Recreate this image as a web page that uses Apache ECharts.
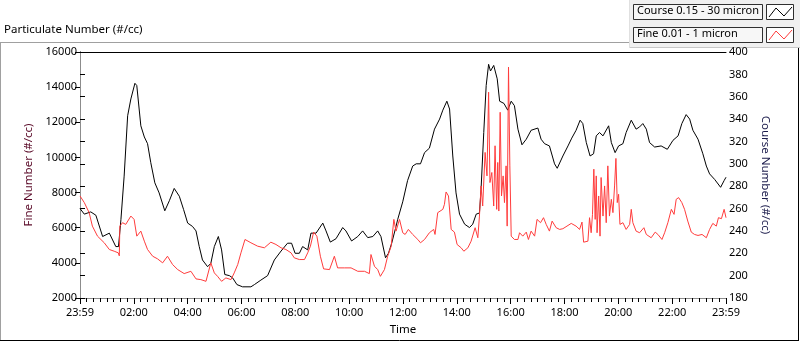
<!DOCTYPE html>
<html>
<head>
	<meta charset="UTF-8">
	<title>Particulate Number</title>
	<script src="https://cdn.jsdelivr.net/npm/echarts/dist/echarts.min.js"></script>
	<style>
		html, body { margin: 0; padding: 0; background: #fff; }
		#chart { width: 800px; height: 342px; }
	</style>
</head>
<body>
	<div id="chart"></div>
	<script type="text/javascript">
		// hours after the 23:59 start (0 .. 24)
		var courseHours = [0, 0.16, 0.40, 0.59, 0.84, 1.09, 1.33, 1.43, 1.52, 1.64, 1.77, 1.89, 2.04, 2.11, 2.26, 2.39, 2.51, 2.63, 2.78, 2.94,
			3.15, 3.32, 3.50, 3.69, 3.85, 4.00, 4.18, 4.31, 4.43, 4.55, 4.74, 4.86, 4.99, 5.14, 5.26, 5.38, 5.55, 5.67, 5.83, 6.04,
			6.35, 6.48, 6.72, 6.97, 7.22, 7.47, 7.71, 7.86, 7.99, 8.15, 8.27, 8.46, 8.58, 8.77, 9.02, 9.14, 9.30, 9.51, 9.76, 9.88,
			10.09, 10.32, 10.50, 10.69, 10.88, 11.06, 11.18, 11.35, 11.46, 11.58, 11.74, 11.80, 11.99, 12.17, 12.36, 12.49, 12.65, 12.80, 12.98,
			13.17, 13.36, 13.48, 13.63, 13.73, 13.85, 13.97, 14.10, 14.29, 14.47, 14.59, 14.72, 14.84, 14.90, 15.00, 15.09, 15.18, 15.25, 15.37,
			15.50, 15.59, 15.75, 15.89, 16.02, 16.14, 16.27, 16.42, 16.58, 16.76, 17.01, 17.13, 17.26, 17.44, 17.63, 17.73, 17.94, 18.13, 18.27,
			18.43, 18.58, 18.68, 18.81, 18.95, 19.08, 19.18, 19.30, 19.43, 19.64, 19.74, 19.88, 20.01, 20.17, 20.29, 20.48, 20.66, 20.79, 20.91,
			21.04, 21.16, 21.35, 21.59, 21.82, 22.03, 22.22, 22.36, 22.52, 22.65, 22.77, 22.96, 23.14, 23.27, 23.39, 23.58, 23.80, 23.93, 24];
		var courseVals = [260, 255, 257, 254, 235, 238, 226, 226, 250, 289, 343, 358, 372, 370, 334, 324, 318, 301, 283, 274,
			258, 267, 278, 271, 259, 247, 244, 240, 226, 214, 208, 211, 226, 235, 223, 201, 200, 198, 192, 190,
			190, 192, 196, 200, 214, 222, 229, 229, 220, 220, 226, 223, 238, 238, 247, 240, 230, 233, 243, 240,
			231, 235, 240, 234, 235, 240, 235, 216, 220, 229, 244, 250, 266, 285, 298, 300, 300, 310, 314,
			331, 340, 348, 356, 349, 307, 274, 255, 246, 243, 246, 255, 256, 277, 328, 370, 389, 383, 388,
			376, 356, 354, 348, 356, 352, 331, 317, 322, 330, 332, 322, 318, 316, 300, 296, 307, 316, 323,
			330, 339, 336, 319, 307, 309, 325, 328, 325, 334, 319, 310, 316, 318, 328, 339, 331, 333, 336,
			331, 319, 315, 316, 313, 321, 325, 336, 344, 340, 330, 322, 309, 298, 291, 286, 279, 285, 288];

		var fineHours = [0, 0.16, 0.34, 0.46, 0.65, 0.90, 1.09, 1.27, 1.42, 1.46, 1.48, 1.58, 1.70, 1.89, 2.01, 2.11, 2.26, 2.39, 2.51, 2.70,
			2.88, 3.07, 3.25, 3.44, 3.63, 3.87, 4.12, 4.31, 4.49, 4.68, 4.86, 4.99, 5.11, 5.26, 5.42, 5.61, 5.73, 5.86, 5.98,
			6.13, 6.35, 6.60, 6.85, 7.09, 7.28, 7.47, 7.65, 7.84, 7.96, 8.15, 8.34, 8.46, 8.56, 8.68, 8.80, 8.93, 9.05, 9.27, 9.45,
			9.57, 9.82, 10.07, 10.32, 10.57, 10.75, 10.81, 10.94, 11.06, 11.16, 11.31, 11.43, 11.56, 11.66, 11.74, 11.87, 11.99,
			12.08, 12.20, 12.36, 12.55, 12.65, 12.80, 12.98, 13.14, 13.19, 13.29, 13.48, 13.54, 13.60, 13.69, 13.79, 13.91, 14.01, 14.16,
			14.26, 14.41, 14.53, 14.68, 14.78, 14.84, 14.90, 14.96, 15.05, 15.12, 15.18, 15.23, 15.30, 15.37, 15.42, 15.48, 15.52, 15.56,
			15.61, 15.66, 15.72, 15.77, 15.83, 15.87, 15.92, 15.97, 16.02, 16.14, 16.27, 16.33, 16.45, 16.58, 16.66, 16.76, 16.89, 16.98,
			17.11, 17.22, 17.32, 17.44, 17.54, 17.69, 17.82, 17.94, 18.00, 18.25, 18.43, 18.56, 18.65, 18.71, 18.87, 18.93, 18.99, 19.04,
			19.09, 19.14, 19.18, 19.21, 19.27, 19.32, 19.36, 19.43, 19.49, 19.55, 19.61, 19.67, 19.74, 19.80, 19.86, 19.91, 19.96, 20.01,
			20.06, 20.17, 20.29, 20.42, 20.48, 20.54, 20.66, 20.79, 20.95, 21.04, 21.22, 21.37, 21.47, 21.62, 21.72, 21.84, 21.97, 22.07,
			22.15, 22.24, 22.36, 22.46, 22.58, 22.71, 22.83, 22.96, 23.11, 23.27, 23.39, 23.51, 23.64, 23.72, 23.83, 23.93, 24];
		var fineVals = [7806, 7429, 6857, 6091, 5520, 5143, 4760, 4663, 4571, 4400, 6091, 6286, 6189, 6663, 6474, 5520, 5806, 5234, 4760, 4377,
			4229, 4000, 4377, 3903, 3617, 3389, 3520, 3086, 3046, 2949, 4000, 3429, 3234, 2949, 3143, 3046, 3429, 3903, 4571,
			5331, 5143, 4949, 4857, 5177, 5046, 4857, 4760, 4571, 4286, 4189, 4189, 4571, 4949, 5749, 5520, 4377, 3657, 3617, 4377,
			3714, 3714, 3714, 3520, 3520, 3389, 4474, 3806, 3617, 3234, 3617, 4377, 4949, 6474, 5806, 6474, 5714,
			5617, 5903, 5617, 5331, 5143, 5331, 5714, 5903, 5617, 6857, 7046, 7331, 8034, 7806, 5903, 5749, 5046, 4857,
			4663, 4857, 5234, 6000, 5429, 6663, 8377, 7234, 10286, 8949, 13714, 8571, 9143, 7234, 10663, 7046, 9714, 6949,
			12571, 7806, 8949, 7429, 9520, 6091, 15143, 9520, 5520, 5331, 5331, 5714, 5520, 5749, 5331, 5806, 5520, 6474,
			6286, 6571, 6189, 5806, 6377, 6000, 5903, 5943, 6000, 6246, 6091, 5903, 6320, 5177, 5234, 6571, 5714, 6760,
			9331, 6474, 8949, 5714, 7806, 5520, 8857, 6663, 8377, 6286, 9520, 6663, 7617, 6857, 8377, 9943, 7429, 7903,
			6189, 6286, 5903, 6189, 7046, 6286, 5806, 5714, 6000, 5617, 5429, 5749, 5617, 5331, 5714, 6286, 7046, 6760,
			7617, 7714, 7429, 7046, 6377, 5749, 5617, 5560, 5617, 5429, 5903, 6246, 6091, 6571, 6514, 7046, 6571];

		var fineTicks = [2000, 16000, 2000];
		var courseTicks = [180, 400, 20];

		var font = '"Noto Sans", "Open Sans", sans-serif';

		function pairs(xs, ys) {
			var out = [];
			for (var i = 0; i < xs.length; i++) {
				out.push([xs[i], ys[i]]);
			}
			return out;
		}

		function timeLabel(v) {
			if (v == 0 || v == 24) return '23:59';
			return (v < 10 ? '0' : '') + v + ':00';
		}

		function plain(v) {
			return String(v);
		}

		var myChart = echarts.init(document.getElementById('chart'), null, { renderer: 'canvas' });
		var option = {
			animation: false,
			backgroundColor: '#fff',
			textStyle: { fontFamily: font },
			grid: { left: 80, right: 74, top: 52, bottom: 44 },
			xAxis: [{
				type: 'value',
				min: 0,
				max: 24,
				interval: 2,
				name: 'Time',
				nameLocation: 'middle',
				nameGap: 26,
				nameTextStyle: { color: '#000', fontSize: 11.5, fontFamily: font },
				axisLine: { lineStyle: { color: '#8c8c8c', width: 1 } },
				axisTick: { show: true, inside: false, length: 6, lineStyle: { color: '#000' } },
				minorTick: { show: true, splitNumber: 8, length: 4, lineStyle: { color: '#000' } },
				splitLine: { show: false },
				axisLabel: { color: '#000', fontSize: 11, margin: 9, formatter: timeLabel, fontFamily: font }
			}, {
				type: 'value',
				position: 'top',
				min: 0,
				max: 24,
				axisLine: { show: true, lineStyle: { color: '#000', width: 1 } },
				axisTick: { show: false },
				axisLabel: { show: false },
				splitLine: { show: false }
			}],
			yAxis: [{
				type: 'value',
				position: 'left',
				min: fineTicks[0],
				max: fineTicks[1],
				interval: fineTicks[2],
				name: 'Fine Number (#/cc)',
				nameLocation: 'middle',
				nameRotate: 90,
				nameGap: 41,
				nameTextStyle: { color: '#5a0a28', fontSize: 11.5, fontFamily: font },
				axisLine: { show: true, lineStyle: { color: '#000', width: 1 } },
				axisTick: { show: true, inside: false, length: 5, lineStyle: { color: '#000' } },
				splitLine: { show: false },
				axisLabel: { color: '#000', fontSize: 11, margin: 3, formatter: plain, fontFamily: font }
			}, {
				type: 'value',
				position: 'right',
				min: courseTicks[0],
				max: courseTicks[1],
				interval: courseTicks[2],
				name: 'Course Number (#/cc)',
				nameLocation: 'middle',
				nameRotate: -90,
				nameGap: 33,
				nameTextStyle: { color: '#1c1c4c', fontSize: 11.5, fontFamily: font },
				axisLine: { show: true, lineStyle: { color: '#8c8c8c', width: 1 } },
				axisTick: { show: true, inside: false, length: 5, lineStyle: { color: '#000' } },
				splitLine: { show: false },
				axisLabel: { color: '#000', fontSize: 11, margin: 3, formatter: plain, fontFamily: font }
			}],
			series: [{
				name: 'Course 0.15 - 30 micron',
				type: 'line',
				yAxisIndex: 1,
				showSymbol: false,
				smooth: false,
				lineStyle: { color: '#000', width: 1 },
				data: pairs(courseHours, courseVals)
			}, {
				name: 'Fine 0.01 - 1 micron',
				type: 'line',
				yAxisIndex: 0,
				showSymbol: false,
				smooth: false,
				lineStyle: { color: '#ff3c3c', width: 1 },
				data: pairs(fineHours, fineVals)
			}],
			graphic: [
				// outer panel frame
				{ type: 'line', shape: { x1: 0, y1: 42.5, x2: 630, y2: 42.5 }, style: { stroke: '#a0a0a0', lineWidth: 1 } },
				{ type: 'line', shape: { x1: 0.5, y1: 42, x2: 0.5, y2: 341 }, style: { stroke: '#a0a0a0', lineWidth: 1 } },
				{ type: 'line', shape: { x1: 0, y1: 340.5, x2: 799, y2: 340.5 }, style: { stroke: '#000', lineWidth: 1 } },
				{ type: 'line', shape: { x1: 798.5, y1: 48, x2: 798.5, y2: 341 }, style: { stroke: '#000', lineWidth: 1 } },
				{ type: 'text', left: 4, top: 24, style: { text: 'Particulate Number (#/cc)', fill: '#000', font: '11.5px ' + font } },
				// legend panel
				{ type: 'rect', shape: { x: 629, y: 0, width: 171, height: 48 }, style: { fill: '#f0f0f0', stroke: null } },
				{ type: 'line', shape: { x1: 629, y1: 47.5, x2: 800, y2: 47.5 }, style: { stroke: '#c8c8c8', lineWidth: 1 } },
				{ type: 'line', shape: { x1: 629.5, y1: 0, x2: 629.5, y2: 48 }, style: { stroke: '#e0e0e0', lineWidth: 1 } },
				{ type: 'rect', shape: { x: 633.5, y: 4.5, width: 129, height: 15 }, style: { fill: '#f7f7f7', stroke: '#303030', lineWidth: 1 } },
				{ type: 'rect', shape: { x: 766.5, y: 4.5, width: 27, height: 15 }, style: { fill: '#fff', stroke: '#303030', lineWidth: 1 } },
				{ type: 'text', left: 637, top: 5, style: { text: 'Course 0.15 - 30 micron', fill: '#000', font: '11px ' + font } },
				{ type: 'polyline', shape: { points: [[769, 17], [776, 8], [784, 16], [792, 7]] }, style: { stroke: '#000', lineWidth: 1, fill: null } },
				{ type: 'rect', shape: { x: 633.5, y: 27.5, width: 129, height: 15 }, style: { fill: '#f7f7f7', stroke: '#303030', lineWidth: 1 } },
				{ type: 'rect', shape: { x: 766.5, y: 27.5, width: 27, height: 15 }, style: { fill: '#fff', stroke: '#303030', lineWidth: 1 } },
				{ type: 'text', left: 637, top: 28, style: { text: 'Fine 0.01 - 1 micron', fill: '#000', font: '11px ' + font } },
				{ type: 'polyline', shape: { points: [[769, 40], [776, 31], [784, 39], [792, 30]] }, style: { stroke: '#ff3c3c', lineWidth: 1, fill: null } }
			]
		};
		myChart.setOption(option);
	</script>
</body>
</html>
